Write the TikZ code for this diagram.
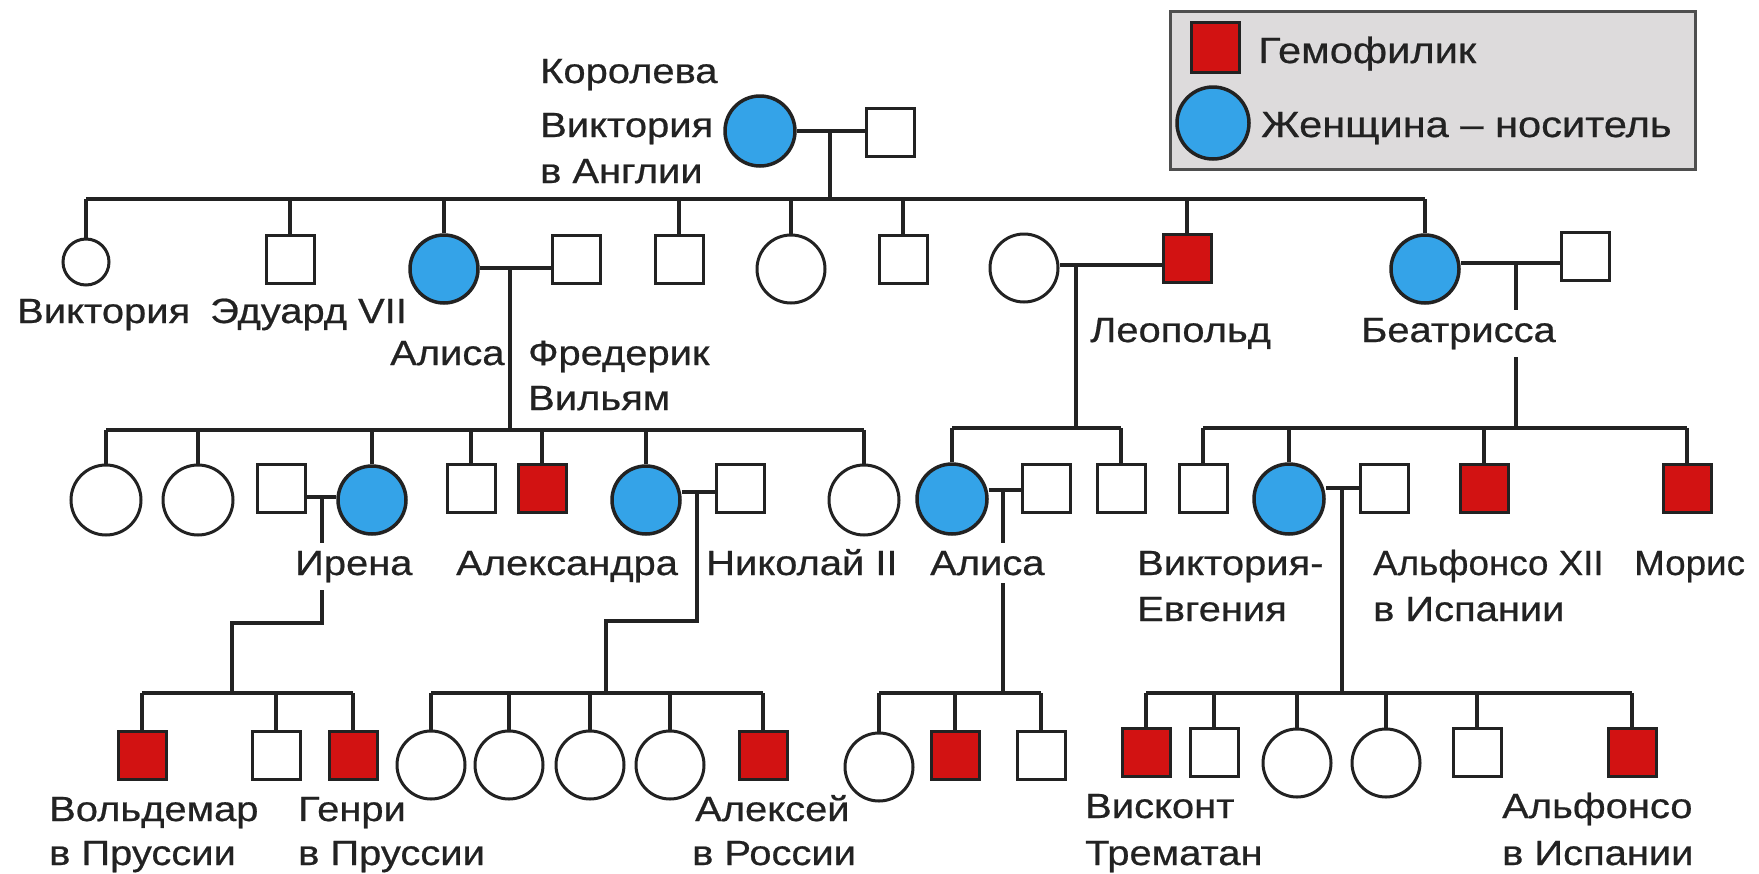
\documentclass[tikz,border=0pt]{standalone}
\usepackage{fontspec}
\setmainfont{Liberation Sans}[FakeStretch=1.14,FakeBold=0.6]
\newfontfamily\narrowlbl{Liberation Sans}[FakeStretch=1.05,FakeBold=0.6]
\usetikzlibrary{backgrounds}
\definecolor{carrierblue}{RGB}{52,163,232}
\definecolor{hemored}{RGB}{210,18,18}
\definecolor{ink}{RGB}{34,34,34}
\definecolor{legendgray}{RGB}{221,219,220}
\begin{document}
\begin{tikzpicture}[x=1pt,y=-1pt,
 male/.style={draw=ink, rectangle, minimum size=48pt, inner sep=0pt, line width=3pt, fill=white},
 fem/.style={draw=ink, circle, minimum size=68pt, inner sep=0pt, line width=3pt, fill=white},
 hemo/.style={male, fill=hemored},
 carrier/.style={fem, fill=carrierblue, line width=3.5pt},
 lbl/.style={anchor=base west, inner sep=0pt, font=\fontsize{35}{40}\selectfont, text=ink},
 narrow/.style={lbl, font=\narrowlbl\fontsize{35}{40}\selectfont},
 leglbl/.style={lbl, font=\fontsize{36.5}{40}\selectfont},
 cut/.style={lbl, fill=white, inner xsep=2pt, inner ysep=8pt},
 conn/.style={draw=ink, line width=3.2pt}]
\useasboundingbox (0,0) rectangle (1759,873);
% legend
\node[draw=ink!80, fill=legendgray, line width=3pt, minimum width=525pt, minimum height=158pt, inner sep=0pt, anchor=north west] (legend) at (1169,10) {};
\node[hemo, minimum width=48pt, minimum height=50pt] (legH) at (1215,47) {};
\node[carrier, minimum size=72pt] (legC) at (1213,123) {};
\node[leglbl] (legHt) at (1258,63) {Гемофилик};
\node[leglbl] (legCt) at (1261,137) {Женщина – носитель};
% row 0
\node[carrier, minimum size=70pt] (Q) at (760,131) {};
\node[male] (QH) at (890,132) {};
% row 1
\node[fem, minimum size=46pt] (c1) at (86,262) {};
\node[male] (s1) at (290,259) {};
\node[carrier] (A) at (444,269) {};
\node[male] (F) at (576,259) {};
\node[male] (s2) at (679,259) {};
\node[fem] (c2) at (791,269) {};
\node[male] (s3) at (903,259) {};
\node[fem] (LW) at (1024,268) {};
\node[hemo] (L) at (1187,258) {};
\node[carrier] (B) at (1425,269) {};
\node[male] (BH) at (1585,256) {};
% row 2
\node[fem, minimum size=70pt] (a1) at (106,500) {};
\node[fem, minimum size=70pt] (a2) at (198,500) {};
\node[male] (IH) at (281,488) {};
\node[carrier] (I) at (372,500) {};
\node[male] (a3) at (471,488) {};
\node[hemo] (a4) at (542,488) {};
\node[carrier] (X) at (646,500) {};
\node[male] (N) at (740,488) {};
\node[fem, minimum size=70pt] (a5) at (864,500) {};
\node[carrier, minimum size=70pt] (AL) at (952,499) {};
\node[male] (ALH) at (1046,488) {};
\node[male] (l2) at (1121,488) {};
\node[male] (b1) at (1203,488) {};
\node[carrier, minimum size=70pt] (VE) at (1289,499) {};
\node[male] (VEH) at (1384,488) {};
\node[hemo] (b3) at (1484,488) {};
\node[hemo] (b4) at (1687,488) {};
% row 3
\node[hemo] (w1) at (142,755) {};
\node[male] (w2) at (276,755) {};
\node[hemo] (w3) at (353,755) {};
\node[fem] (x1) at (431,765) {};
\node[fem] (x2) at (509,765) {};
\node[fem] (x3) at (590,765) {};
\node[fem] (x4) at (670,765) {};
\node[hemo] (x5) at (763,755) {};
\node[fem] (y1) at (879,767) {};
\node[hemo] (y2) at (955,755) {};
\node[male] (y3) at (1041,755) {};
\node[hemo] (v1) at (1146,752) {};
\node[male] (v2) at (1214,752) {};
\node[fem] (v3) at (1297,763) {};
\node[fem] (v4) at (1386,763) {};
\node[male] (v5) at (1477,752) {};
\node[hemo] (v6) at (1632,752) {};
% connectors
\coordinate (r1) at (0,199);
\coordinate (r2a) at (0,430);
\coordinate (r2b) at (0,428);
\coordinate (r3) at (0,693);
\coordinate (qm) at (830,131);
\coordinate (am) at (510,268);
\coordinate (im) at (322,497);
\coordinate (ik) at (322,623);
\coordinate (ij) at (232,623);
\coordinate (xm) at (697,492);
\coordinate (xk) at (697,621);
\coordinate (xj) at (606,621);
\coordinate (lm) at (1076,265);
\coordinate (am2) at (1003,490);
\coordinate (bm) at (1516,263);
\coordinate (vm) at (1342,488);
\begin{pgfonlayer}{background}
\draw[conn] (Q.east) -- (QH.west |- Q.east);
\draw[conn] (qm) -- (qm |- r1);
\draw[conn] (c1.north |- r1) -- (B.north |- r1);
\foreach \n in {c1,s1,A,s2,c2,s3,L,B} \draw[conn] (\n.north) -- (\n.north |- r1);
\draw[conn] (A.east |- am) -- (F.west |- am);
\draw[conn] (am) -- (am |- r2a);
\draw[conn] (a1.north |- r2a) -- (a5.north |- r2a);
\foreach \n in {a1,a2,I,a3,a4,X,a5} \draw[conn] (\n.north) -- (\n.north |- r2a);
\draw[conn] (IH.east |- im) -- (I.west |- im);
\draw[conn] (im) -- (ik) -- (ij) -- (ij |- r3);
\draw[conn] (w1.north |- r3) -- (w3.north |- r3);
\foreach \n in {w1,w2,w3} \draw[conn] (\n.north) -- (\n.north |- r3);
\draw[conn] (X.east |- xm) -- (N.west |- xm);
\draw[conn] (xm) -- (xk) -- (xj) -- (xj |- r3);
\draw[conn] (x1.north |- r3) -- (x5.north |- r3);
\foreach \n in {x1,x2,x3,x4,x5} \draw[conn] (\n.north) -- (\n.north |- r3);
\draw[conn] (LW.east |- lm) -- (L.west |- lm);
\draw[conn] (lm) -- (lm |- r2b);
\draw[conn] (AL.north |- r2b) -- (l2.north |- r2b);
\foreach \n in {AL,l2} \draw[conn] (\n.north) -- (\n.north |- r2b);
\draw[conn] (AL.east |- am2) -- (ALH.west |- am2);
\draw[conn] (am2) -- (am2 |- r3);
\draw[conn] (y1.north |- r3) -- (y3.north |- r3);
\foreach \n in {y1,y2,y3} \draw[conn] (\n.north) -- (\n.north |- r3);
\draw[conn] (B.east |- bm) -- (BH.west |- bm);
\draw[conn] (bm) -- (bm |- r2b);
\draw[conn] (b1.north |- r2b) -- (b4.north |- r2b);
\foreach \n in {b1,VE,b3,b4} \draw[conn] (\n.north) -- (\n.north |- r2b);
\draw[conn] (VE.east |- vm) -- (VEH.west |- vm);
\draw[conn] (vm) -- (vm |- r3);
\draw[conn] (v1.north |- r3) -- (v6.north |- r3);
\foreach \n in {v1,v2,v3,v4,v5,v6} \draw[conn] (\n.north) -- (\n.north |- r3);
\end{pgfonlayer}
% labels
\node[lbl] (tQ1) at (540,83) {Королева};
\node[lbl] (tQ2) at (540,137) {Виктория};
\node[lbl] (tQ3) at (540,183) {в Англии};
\node[lbl] (tc1) at (17,323) {Виктория};
\node[lbl] (ts1) at (210,323) {Эдуард VII};
\node[lbl] (tA) at (390,365) {Алиса};
\node[lbl] (tF1) at (528,365) {Фредерик};
\node[lbl] (tF2) at (528,410) {Вильям};
\node[lbl] (tL) at (1090,342) {Леопольд};
\node[cut] (tB) at (1359,342) {Беатрисса};
\node[cut] (tI) at (293,575) {Ирена};
\node[lbl] (tX) at (456,575) {Александра};
\node[lbl] (tN) at (706,575) {Николай II};
\node[cut] (tAL) at (928,575) {Алиса};
\node[lbl] (tVE1) at (1137,575) {Виктория-};
\node[lbl] (tVE2) at (1137,621) {Евгения};
\node[narrow] (tVEH1) at (1373,575) {Альфонсо XII};
\node[lbl] (tVEH2) at (1373,621) {в Испании};
\node[narrow] (tb4) at (1634,575) {Морис};
\node[lbl] (tw11) at (49,821) {Вольдемар};
\node[lbl] (tw12) at (49,865) {в Пруссии};
\node[lbl] (tw31) at (298,821) {Генри};
\node[lbl] (tw32) at (298,865) {в Пруссии};
\node[lbl] (tx51) at (695,821) {Алексей};
\node[lbl] (tx52) at (692,865) {в России};
\node[lbl] (tv11) at (1085,818) {Висконт};
\node[lbl] (tv12) at (1085,865) {Трематан};
\node[lbl] (tv61) at (1502,818) {Альфонсо};
\node[lbl] (tv62) at (1502,865) {в Испании};
\end{tikzpicture}
\end{document}
